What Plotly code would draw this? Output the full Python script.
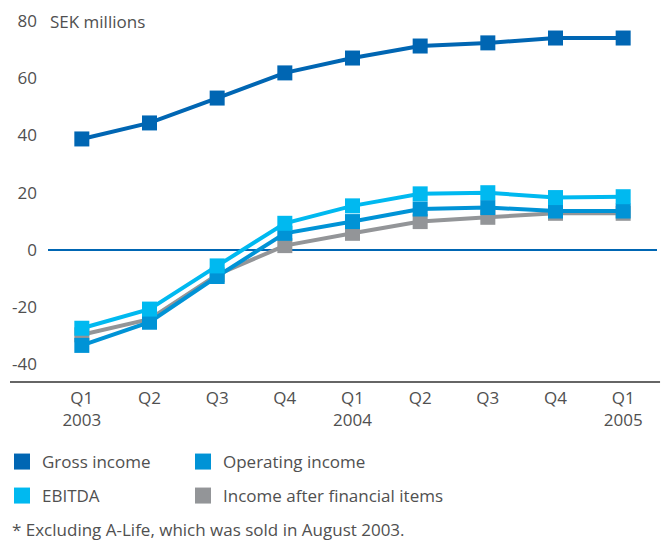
import plotly.graph_objects as go

quarters = ["Q1<br>2003", "Q2", "Q3", "Q4", "Q1<br>2004", "Q2", "Q3", "Q4", "Q1<br>2005"]
x_idx = list(range(len(quarters)))

gross_income = [38.8, 44.4, 53.1, 61.9, 67.1, 71.3, 72.4, 74.1, 74.1]
operating_income = [-33.4, -25.3, -9.3, 5.8, 9.9, 14.3, 14.8, 13.6, 13.6]
ebitda = [-27.4, -20.7, -5.6, 9.3, 15.4, 19.6, 20.0, 18.3, 18.6]
income_after_fin = [-29.7, -24.2, -8.7, 1.5, 5.8, 9.9, 11.4, 12.8, 12.8]

y_ticks = [80, 60, 40, 20, 0, -20, -40]
y_tick_labels = ["80", "60", "40", "20", "0", "-20", "-40"]

FONT = "Open Sans"
TXT = "#505050"
FS = 17

series = [
    ("Gross income", gross_income, "#0066b3"),
    ("Income after financial items", income_after_fin, "#939598"),
    ("Operating income", operating_income, "#0093d6"),
    ("EBITDA", ebitda, "#00b9f0"),
]

fig = go.Figure()
for name, vals, col in series:
    fig.add_trace(go.Scatter(
        x=x_idx, y=vals, mode="lines+markers", name=name,
        line=dict(color=col, width=4),
        marker=dict(symbol="square", size=15, color=col),
        showlegend=False, hoverinfo="skip",
    ))

# legend-only entries (square swatches), one legend box per entry
legend_order = [
    ("Gross income", "#0066b3", "legend"),
    ("Operating income", "#0093d6", "legend2"),
    ("EBITDA", "#00b9f0", "legend3"),
    ("Income after financial items", "#939598", "legend4"),
]
for name, col, lg in legend_order:
    fig.add_trace(go.Scatter(
        x=[None], y=[None], mode="markers", name=name,
        marker=dict(symbol="square", size=17, color=col),
        legend=lg, showlegend=True,
    ))

legend_common = dict(
    orientation="h", xanchor="left", yanchor="middle",
    font=dict(family=FONT, size=FS, color=TXT),
    bgcolor="rgba(0,0,0,0)",
    itemclick=False, itemdoubleclick=False,
)

PW, PH = 609, 366
col1_x = (2 - 48) / PW
col2_x = (183 - 48) / PW
row1_y = (382 - 462) / PH
row2_y = (382 - 496) / PH

fig.update_layout(
    width=666, height=540,
    margin=dict(l=48, r=9, t=16, b=158, autoexpand=False),
    paper_bgcolor="white", plot_bgcolor="white",
    font=dict(family=FONT, size=FS, color=TXT),
    xaxis=dict(
        range=[-0.5, 8.5], tickmode="array", tickvals=x_idx, ticktext=quarters,
        showgrid=False, zeroline=False, showline=False, ticks="",
        ticklabelstandoff=4,
        tickfont=dict(family=FONT, size=FS, color=TXT), automargin=False,
    ),
    yaxis=dict(
        range=[-46.2, 81.8], tickmode="array", tickvals=y_ticks, ticktext=y_tick_labels,
        showgrid=False, zeroline=True, zerolinecolor="#0066b3", zerolinewidth=1.5,
        showline=False, ticks="", ticklabelstandoff=10,
        tickfont=dict(family=FONT, size=FS, color=TXT), automargin=False,
    ),
    legend=dict(x=col1_x, y=row1_y, **legend_common),
    legend2=dict(x=col2_x, y=row1_y, **legend_common),
    legend3=dict(x=col1_x, y=row2_y, **legend_common),
    legend4=dict(x=col2_x, y=row2_y, **legend_common),
    showlegend=True,
    hovermode=False,
)

# bottom axis line extending left
fig.add_shape(type="line", xref="paper", yref="paper", x0=-38/PW, x1=1.005, y0=0, y1=0,
              line=dict(color="#333333", width=1.5))

fig.add_annotation(text="SEK millions", xref="paper", yref="y", x=0.0, y=80,
                   xanchor="left", yanchor="middle", showarrow=False,
                   font=dict(family=FONT, size=FS, color=TXT))
fig.add_annotation(text="* Excluding A-Life, which was sold in August 2003.",
                   xref="paper", yref="paper", x=-38/PW, y=(382 - 529) / PH,
                   xanchor="left", yanchor="middle", showarrow=False,
                   font=dict(family=FONT, size=FS, color=TXT))

fig.write_html("out.html", config={"displayModeBar": False},
               post_script="document.body.style.margin='0';")
